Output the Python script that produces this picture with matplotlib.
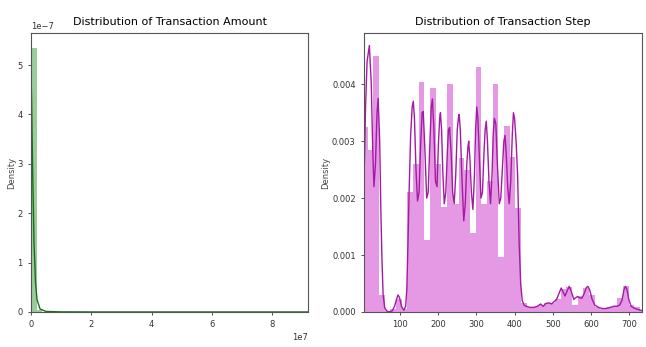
import numpy as np
import matplotlib
matplotlib.use("Agg")
import matplotlib.pyplot as plt

plt.rcParams['font.family'] = ['DejaVu Sans']

# Transaction amount: 50 bins on 0 .. 9.24e7
amount_min, amount_max = 0, 9.24e7
amount_hist = [5.35e-7, 0.03e-7, 0.008e-7, 0.003e-7] + [0.0] * 46
amount_kde_x = [0, 0.2e6, 0.5e6, 1e6, 1.5e6, 2e6, 3e6, 5e6, 1e7, 2e7, 5e7, 9.2e7]
amount_kde_y = [4.8e-7, 4.3e-7, 3.0e-7, 1.4e-7, 0.6e-7, 0.25e-7, 0.06e-7,
                0.01e-7, 0.002e-7, 0, 0, 0]

# Transaction step: 50 bins on 1 .. 743
step_min, step_max = 1, 743
step_hist = [0.00324, 0.00285, 0.00449, 0.0003, 0.00001, 0.00005, 0.00022, 0.00005, 0.0021, 0.0026,
             0.00403, 0.00126, 0.00394, 0.0026, 0.00185, 0.0040, 0.0019, 0.0027, 0.0025, 0.00139,
             0.0043, 0.0019, 0.0023, 0.0040, 0.00097, 0.00326, 0.00273, 0.00183, 0.00015, 0.00008,
             0.00008, 0.00012, 0.00015, 0.00016, 0.00022, 0.0004, 0.00043, 0.00012, 0.00028, 0.00042,
             0.0003, 0.00008, 0.00006, 0.00008, 0.0001, 0.00025, 0.00045, 0.00012, 0.00008, 0.00003]

step_kde_x = [7, 10, 14, 20, 25, 29, 32, 36, 40, 43, 47, 50, 53, 56, 60, 65, 72, 80, 86, 91,
              95, 99, 104, 110, 115, 118, 121, 124, 128, 132, 135, 138, 142, 146, 150, 154, 158, 161, 165, 170,
              174, 178, 182, 185, 189, 193, 197, 201, 204, 206, 209, 212, 216, 220, 224, 227, 230, 234, 238, 242,
              246, 250, 253, 255, 258, 262, 267, 271, 275, 278, 280, 283, 287, 291, 295, 298, 301, 304, 308, 312,
              316, 320, 323, 326, 329, 333, 337, 341, 344, 347, 351, 355, 360, 364, 368, 372, 375, 378, 382, 386,
              390, 394, 397, 400, 404, 408, 412, 416, 420, 425, 430, 440, 450, 460, 468, 475, 482, 490, 497, 503,
              510, 516, 522, 527, 532, 537, 543, 549, 555, 560, 565, 570, 576, 582, 588, 592, 597, 603, 610, 620,
              630, 640, 650, 660, 668, 675, 681, 686, 690, 694, 699, 705, 712, 720, 730, 740]
step_kde_y = [0.0026, 0.0036, 0.0044, 0.00468, 0.0040, 0.0028, 0.0022, 0.0026, 0.0035, 0.00375,
              0.0030, 0.0018, 0.0009, 0.0003, 0.00008, 0.00002, 0.0, 0.00002, 0.0001, 0.00022,
              0.0003, 0.00025, 0.0001, 0.00003, 0.0001, 0.0004, 0.0012, 0.0021, 0.0031, 0.0036,
              0.0037, 0.0034, 0.0025, 0.00195, 0.0021, 0.0029, 0.0035, 0.00352, 0.0029, 0.0020,
              0.0021, 0.0029, 0.0036, 0.00374, 0.0032, 0.0023, 0.0022, 0.0030, 0.0034, 0.0035,
              0.0032, 0.0025, 0.0019, 0.0021, 0.0028, 0.0032, 0.00324, 0.0028, 0.0021, 0.0019,
              0.0024, 0.0032, 0.0034, 0.00347, 0.0032, 0.0024, 0.0016, 0.0019, 0.0026, 0.0029,
              0.0030, 0.0027, 0.0021, 0.0018, 0.0024, 0.0032, 0.0036, 0.0034, 0.0027, 0.0020,
              0.0021, 0.0028, 0.0032, 0.00335, 0.0030, 0.0023, 0.0019, 0.0024, 0.0031, 0.0034,
              0.0033, 0.0026, 0.0019, 0.0020, 0.0025, 0.0030, 0.0031, 0.0028, 0.0022, 0.0019,
              0.0023, 0.0031, 0.0035, 0.0034, 0.0030, 0.0024, 0.0012, 0.0005, 0.0002, 0.00012,
              0.0001, 0.00008, 0.00008, 0.0001, 0.00014, 0.0001, 0.00015, 0.00016, 0.00014, 0.00018,
              0.00022, 0.00032, 0.00042, 0.00035, 0.00028, 0.00036, 0.00045, 0.00035, 0.00022, 0.00025,
              0.00027, 0.00025, 0.00024, 0.00032, 0.00043, 0.00045, 0.00038, 0.00022, 0.00012, 0.00008,
              0.00006, 0.00006, 0.00008, 0.0001, 0.0001, 0.00012, 0.0002, 0.00038, 0.00045, 0.0004,
              0.00022, 0.0001, 0.00007, 0.00005, 0.00003, 0.00001]


def dist_panel(ax, hist, lo, hi, kx, ky, color, line_color):
    edges = np.linspace(lo, hi, len(hist) + 1)
    ax.bar(edges[:-1], hist, width=np.diff(edges), align='edge',
           color=color, alpha=0.4, linewidth=0)
    ax.plot(kx, ky, color=line_color, lw=1)
    ax.set_ylabel("Density", fontsize=6, color='#444444', labelpad=1)
    ax.tick_params(labelsize=6, length=2.5, width=0.6, colors='#333333')
    for s in ax.spines.values():
        s.set_color('#555555')
        s.set_linewidth(0.8)


fig = plt.figure(figsize=(6.46, 3.47), dpi=100)
ax1 = fig.add_axes([0.048, 0.101, 0.429, 0.804])
ax2 = fig.add_axes([0.5635, 0.101, 0.430, 0.804])

dist_panel(ax1, amount_hist, amount_min, amount_max, amount_kde_x, amount_kde_y, 'green', '#1a6e1a')
ax1.set_xlim(0, 9.2e7)
ax1.set_ylim(0, 5.65e-7)
ax1.yaxis.get_offset_text().set_fontsize(6)
ax1.xaxis.get_offset_text().set_fontsize(6)
ax1.set_title("Distribution of Transaction Amount", fontsize=8, pad=6)

dist_panel(ax2, step_hist, step_min, step_max, step_kde_x, step_kde_y, 'm', '#a41aa4')
ax2.set_xlim(6, 733)
ax2.set_ylim(0, 0.0049)
ax2.set_xticks([100, 200, 300, 400, 500, 600, 700])
ax2.set_yticks([0.0, 0.001, 0.002, 0.003, 0.004])
ax2.set_yticklabels(["0.000", "0.001", "0.002", "0.003", "0.004"])
ax2.set_title("Distribution of Transaction Step", fontsize=8, pad=6)

fig.savefig("out.png", dpi=100)
